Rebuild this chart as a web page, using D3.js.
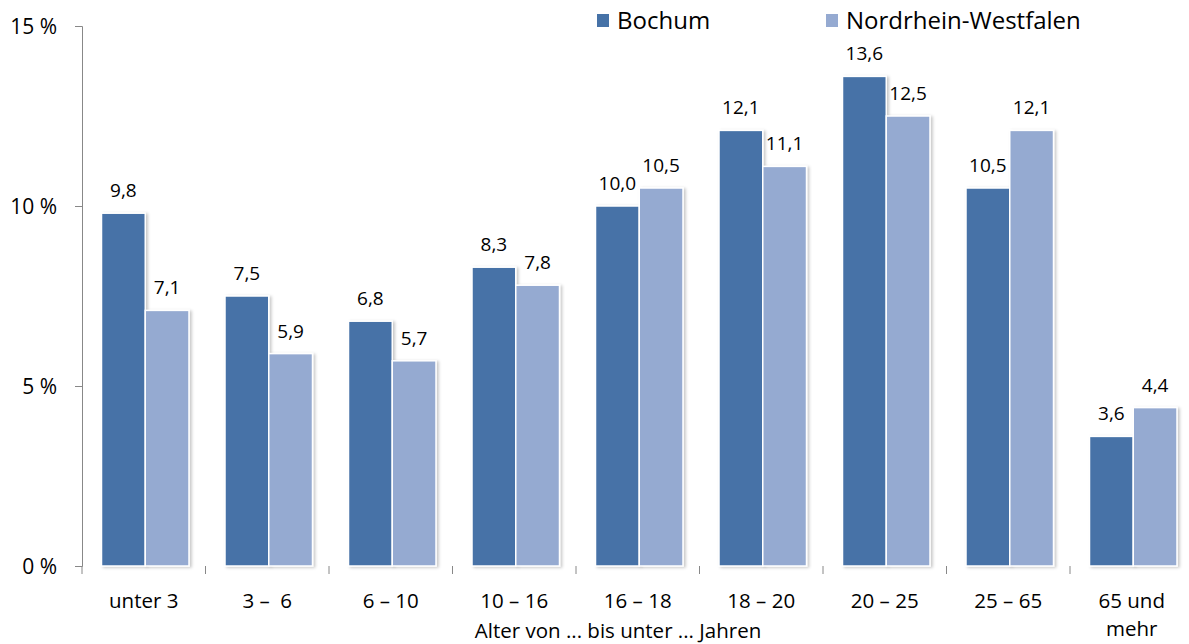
<!DOCTYPE html>
<html><head><meta charset="utf-8">
<script src="https://cdn.jsdelivr.net/npm/d3@7"></script>
<style>
html,body{margin:0;padding:0;background:#fff;}
svg{display:block;font-family:"Open Sans","Noto Sans",sans-serif;}
text{white-space:pre;}
</style></head>
<body>
<svg id="c" width="1189" height="644"></svg>
<script>
const categories = ["unter 3","3 –  6","6 – 10","10 – 16","16 – 18","18 – 20","20 – 25","25 – 65","65 und|mehr"];
const seriesNames = ["Bochum","Nordrhein-Westfalen"];
const bochum = [9.8,7.5,6.8,8.3,10.0,12.1,13.6,10.5,3.6];
const nrw = [7.1,5.9,5.7,7.8,10.5,11.1,12.5,12.1,4.4];
const yTicks = [0,5,10,15];
const colors = ["#4672A7","#95AAD1"];
const xTitle = "Alter von ... bis unter ... Jahren";

const svg = d3.select("#c");
const fmt = v => d3.format(".1f")(v).replace(".", ",");

const defs = svg.append("defs");
const f = defs.append("filter").attr("id","sh").attr("x","-10%").attr("y","-10%").attr("width","130%").attr("height","130%");
f.append("feDropShadow").attr("dx",2).attr("dy",1).attr("stdDeviation",1.5).attr("flood-color","#000").attr("flood-opacity",0.22);

const x = d3.scaleBand().domain(categories).range([82, 1193.5]);
const xs = d3.scaleBand().domain(seriesNames).range([19.5, 107]);
const y = d3.scaleLinear().domain([0,15]).range([566, 26]);

// bars
const data = categories.map((c,i)=>({c, vals:[bochum[i], nrw[i]]}));
const g = svg.append("g");
data.forEach(d=>{
  d.vals.forEach((v,k)=>{
    const bx = x(d.c) + xs(seriesNames[k]);
    g.append("rect")
      .attr("x", bx).attr("y", y(v))
      .attr("width", xs.bandwidth()).attr("height", y(0)-y(v))
      .attr("fill", colors[k]).attr("stroke","#fff").attr("stroke-width",1.5)
      .attr("filter","url(#sh)");
    g.append("text")
      .attr("x", bx + xs.bandwidth()/2).attr("y", y(v)-16)
      .attr("text-anchor","middle").attr("font-size",19).attr("fill","#000")
      .text(fmt(v));
  });
});

// y axis
const yAxis = svg.append("g").attr("transform","translate(82,0)")
  .call(d3.axisLeft(y).tickValues(yTicks).tickSize(7).tickFormat(d=>d+" %"));
yAxis.select(".domain").attr("stroke","#888");
yAxis.selectAll(".tick line").attr("stroke","#888");
yAxis.selectAll("text").attr("font-size",21).attr("fill","#000").attr("font-family","'Open Sans','Noto Sans',sans-serif").attr("x",-25).attr("dy","0.35em");

// x axis
const xAxisG = svg.append("g").attr("transform","translate(0,566)");
xAxisG.append("line").attr("x1",82).attr("x2",1189).attr("y1",0).attr("y2",0).attr("stroke","#888").attr("stroke-width",1.2).attr("filter","url(#sh)");
const bounds = categories.map(c=>x(c));
xAxisG.selectAll("line.t").data(bounds).enter().append("line").attr("class","t")
  .attr("x1",d=>d).attr("x2",d=>d).attr("y1",0).attr("y2",8).attr("stroke","#888");
categories.forEach(c=>{
  const lines = c.split("|");
  const cx = x(c)+x.bandwidth()/2;
  const t = xAxisG.append("text").attr("text-anchor","middle").attr("font-size",20.5).attr("fill","#000")
    .attr("x", cx).attr("y", 42);
  lines.forEach((l,i)=> t.append("tspan").attr("x", cx).attr("dy", i? 28:0).text(l));
});
svg.append("text").attr("x",618).attr("y",638).attr("text-anchor","middle").attr("font-size",20.5).attr("fill","#000").text(xTitle);

// legend
const lg = svg.append("g");
const lx = [597, 826];
seriesNames.forEach((s,k)=>{
  lg.append("rect").attr("x",lx[k]).attr("y",14).attr("width",12).attr("height",13).attr("fill",colors[k]);
  lg.append("text").attr("x",lx[k]+20).attr("y",29).attr("font-size",24).attr("fill","#000").text(s);
});
</script>
</body></html>
